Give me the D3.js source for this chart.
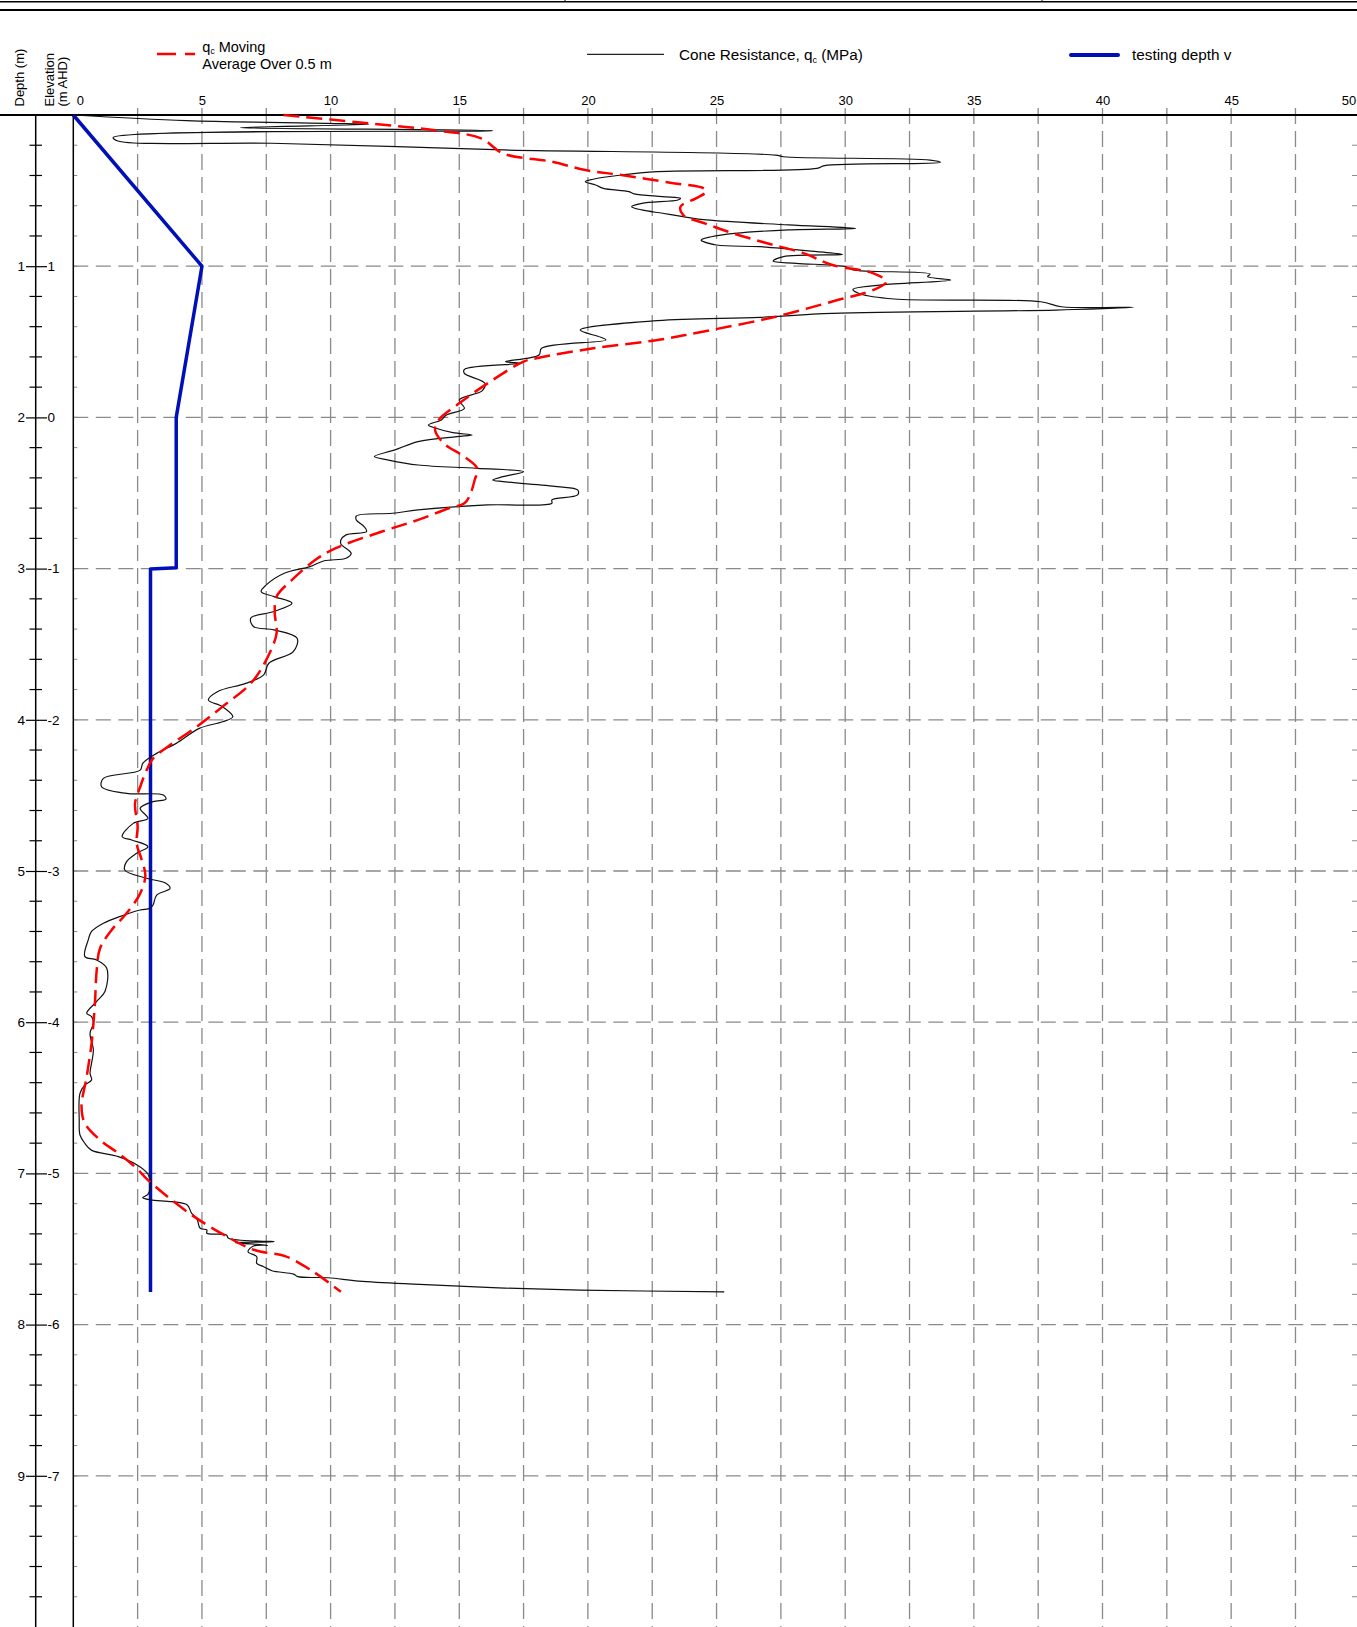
<!DOCTYPE html>
<html>
<head>
<meta charset="utf-8">
<script src="https://cdn.jsdelivr.net/npm/d3@7.9.0/dist/d3.min.js"></script>
<style>
  body { margin: 0; background: #fff; }
  svg { display: block; font-family: "Liberation Sans", Arial, sans-serif; }
</style>
</head>
<body>
<svg id="chart" width="1357" height="1627"></svg>
<script>
// ---- data ----
const qcTickLabels = [0, 5, 10, 15, 20, 25, 30, 35, 40, 45, 50];
const gridQc = [2.5, 5, 7.5, 10, 12.5, 15, 17.5, 20, 22.5, 25, 27.5, 30, 32.5, 35, 37.5, 40, 42.5, 45, 47.5, 50];
const depthLabels = [1, 2, 3, 4, 5, 6, 7, 8, 9];
const elevLabels = [1, 0, -1, -2, -3, -4, -5, -6, -7];

// cone resistance qc (MPa) against depth (m)
const coneDepth = [0, 0.037, 0.055, 0.062, 0.084, 0.104, 0.148, 0.17, 0.187, 0.209, 0.231, 0.265, 0.276, 0.298, 0.313,
  0.335, 0.353, 0.375, 0.397, 0.425, 0.441, 0.463, 0.485, 0.507, 0.522, 0.54, 0.551, 0.562, 0.584, 0.606, 0.628,
  0.65, 0.672, 0.694, 0.727, 0.75, 0.76, 0.783, 0.805, 0.827, 0.86, 0.871, 0.904, 0.922, 0.937, 0.966, 0.981,
  1.003, 1.025, 1.052, 1.069, 1.091, 1.124, 1.153, 1.184, 1.217, 1.235, 1.268, 1.272, 1.29, 1.312, 1.338, 1.36,
  1.422, 1.47, 1.488, 1.543, 1.587, 1.631, 1.642, 1.682, 1.709, 1.775, 1.823, 1.885, 1.94, 1.984, 2.017, 2.05,
  2.072, 2.101, 2.116, 2.127, 2.16, 2.215, 2.259, 2.282, 2.315, 2.337, 2.359, 2.392, 2.414, 2.425, 2.458, 2.48,
  2.513, 2.546, 2.568, 2.579, 2.612, 2.634, 2.652, 2.678, 2.722, 2.755, 2.777, 2.811, 2.837, 2.899, 2.932, 2.948,
  2.987, 3.031, 3.108, 3.152, 3.185, 3.229, 3.284, 3.327, 3.383, 3.405, 3.461, 3.549, 3.626, 3.703, 3.759, 3.814,
  3.869, 3.913, 3.98, 4.013, 4.057, 4.156, 4.222, 4.288, 4.333, 4.387, 4.443, 4.487, 4.498, 4.526, 4.541, 4.585,
  4.652, 4.685, 4.773, 4.795, 4.839, 4.883, 4.938, 4.993, 5.048, 5.081, 5.115, 5.159, 5.225, 5.247, 5.258, 5.302,
  5.346, 5.4, 5.456, 5.566, 5.588, 5.643, 5.797, 5.864, 5.941, 5.963, 6.007, 6.073, 6.184, 6.271, 6.338, 6.382,
  6.415, 6.471, 6.647, 6.746, 6.802, 6.846, 6.889, 6.944, 7.004, 7.066, 7.139, 7.16, 7.175, 7.187, 7.209, 7.264,
  7.297, 7.363, 7.374, 7.396, 7.407, 7.429, 7.452, 7.458, 7.475, 7.48, 7.518, 7.551, 7.595, 7.617, 7.644, 7.666,
  7.683, 7.69, 7.712, 7.734, 7.756, 7.772, 7.783];
const coneQc = [0, 4.4, 9.9, 11.5, 6.5, 16.3, 1.55, 1.7, 7.7, 12.6, 16.7, 27.3, 27.6, 33.3, 33.7,
  29.2, 28.9, 22.7, 21.3, 20.2, 19.9, 20.3, 20.6, 21.6, 21.8, 22.9, 23.6, 23.5, 22.1, 21.7, 22.1,
  22.9, 23.7, 24.6, 27.8, 30.4, 27.8, 25.7, 24.8, 24.4, 25.0, 26.7, 28.9, 29.9, 27.6, 27.2, 28.1,
  30.0, 30.3, 33.3, 33.2, 34.1, 31.4, 30.3, 30.6, 31.9, 37.6, 38.4, 41.2, 38.2, 29.5, 26.7, 22.7,
  19.7, 20.5, 20.7, 18.2, 18.1, 16.8, 17.4, 15.2, 15.2, 16.0, 15.9, 15.0, 15.2, 14.5, 14.3, 13.8,
  14.1, 14.75, 15.5, 14.9, 13.4, 12.5, 11.7, 12.25, 13.4, 15.7, 17.5, 16.7, 16.3, 16.7, 18.8, 19.6,
  19.6, 18.6, 18.6, 16.1, 13.4, 12.4, 11.0, 11.0, 11.3, 11.4, 10.6, 10.4, 10.4, 10.8, 10.6, 9.75,
  9.2, 8.2, 7.5, 7.3, 7.8, 8.5, 7.8, 6.9, 7.0, 7.8, 8.7, 8.55, 7.6, 7.4, 6.7, 5.6,
  5.25, 5.8, 6.2, 5.8, 4.9, 4.0, 3.24, 2.7, 2.6, 1.17, 1.1, 2.07, 3.5, 3.6, 3.1, 2.6,
  2.9, 2.33, 1.9, 2.27, 2.9, 2.46, 2.07, 2.0, 2.85, 3.6, 3.76, 3.24, 3.1, 2.98, 2.6, 1.8,
  1.17, 0.71, 0.58, 0.45, 0.9, 1.3, 1.23, 0.9, 0.52, 0.71, 0.78, 0.65, 0.78, 0.71, 0.65, 0.71,
  0.45, 0.26, 0.23, 0.26, 0.45, 0.7, 1.75, 2.48, 2.9, 3.0, 2.9, 2.7, 3.0, 3.83, 4.43, 4.6,
  4.8, 4.93, 5.19, 5.19, 5.95, 6.03, 7.8, 6.3, 7.55, 7.0, 6.79, 7.13, 7.13, 7.4, 7.72, 8.56,
  8.73, 9.9, 11.1, 13.46, 16.3, 19.7, 25.3];

// qc moving average over 0.5 m
const avgDepth = [0, 0.055, 0.104, 0.154, 0.254, 0.309, 0.364, 0.397, 0.448, 0.485, 0.507, 0.551, 0.606, 0.661,
  0.72, 0.783, 0.85, 0.915, 0.992, 1.047, 1.102, 1.157, 1.224, 1.334, 1.422, 1.488, 1.543, 1.609, 1.631, 1.775,
  1.907, 2.017, 2.083, 2.172, 2.26, 2.337, 2.414, 2.52, 2.568, 2.601, 2.678, 2.755, 2.865, 2.943, 3.075, 3.185,
  3.295, 3.428, 3.604, 3.759, 3.913, 4.046, 4.167, 4.256, 4.333, 4.443, 4.553, 4.707, 4.817, 4.927, 5.03, 5.148,
  5.28, 5.39, 5.511, 5.655, 5.875, 6.14, 6.36, 6.558, 6.669, 6.779, 6.867, 6.967, 7.044, 7.264, 7.407, 7.507,
  7.547, 7.64, 7.783];
const avgQc = [8.17, 11.5, 14.2, 15.85, 16.7, 18.6, 19.9, 21.3, 23.2, 24.5, 24.6, 24.2, 23.6, 23.7,
  24.6, 25.65, 27.0, 28.4, 29.5, 31.1, 31.6, 31.1, 29.7, 27.3, 24.8, 22.7, 20.2, 18.0, 17.5, 16.1,
  15.0, 14.2, 14.06, 14.4, 15.2, 15.7, 15.6, 15.4, 15.2, 14.6, 13.4, 12.0, 10.2, 9.4, 8.5, 7.9,
  7.83, 7.9, 7.5, 6.9, 5.8, 4.8, 3.76, 3.1, 2.85, 2.6, 2.4, 2.5, 2.46, 2.66, 2.8, 2.6,
  2.07, 1.49, 1.04, 0.91, 0.84, 0.71, 0.52, 0.32, 0.45, 1.04, 1.75, 2.46, 2.9, 4.51, 5.86, 7.04,
  8.23, 9.24, 10.4];

// testing depth v
const testDepth = [0, 1, 2, 2.995, 3.003, 7.785];
const testQc = [0, 5, 4, 4, 3, 3];

// ---- layout ----
const W = 1357, H = 1627;
const svg = d3.select('#chart');
const x = d3.scaleLinear().domain([0, 50]).range([73.3, 1359.8]);
const y = d3.scaleLinear().domain([0, 10]).range([115, 1627]);
const GRID = '#8a8a8a';

// header rules
svg.append('line').attr('x1', 0).attr('x2', W).attr('y1', 1.8).attr('y2', 1.8)
  .attr('stroke', '#000').attr('stroke-width', 1.6);
svg.append('line').attr('x1', 0).attr('x2', W).attr('y1', 10).attr('y2', 10)
  .attr('stroke', '#000').attr('stroke-width', 2.2);
[565, 1042].forEach(px => {
  svg.append('line').attr('x1', px).attr('x2', px).attr('y1', 0).attr('y2', 2)
    .attr('stroke', '#000').attr('stroke-width', 1);
});

// grid
svg.append('g').selectAll('line').data(gridQc).join('line')
  .attr('x1', d => x(d)).attr('x2', d => x(d))
  .attr('y1', 108).attr('y2', H)
  .attr('stroke', GRID).attr('stroke-width', 1.3).attr('stroke-dasharray', '16,7');

svg.append('g').selectAll('line').data(depthLabels).join('line')
  .attr('x1', x(0)).attr('x2', W)
  .attr('y1', d => y(d)).attr('y2', d => y(d))
  .attr('stroke', GRID).attr('stroke-width', 1.3).attr('stroke-dasharray', '15,7.5');

// minor depth ticks every 0.2 m
const minorDepths = d3.range(0.2, 10, 0.2).filter(d => Math.abs(d - Math.round(d)) > 0.01);
svg.append('g').selectAll('line').data(minorDepths).join('line')
  .attr('x1', 29.5).attr('x2', 42)
  .attr('y1', d => y(d)).attr('y2', d => y(d))
  .attr('stroke', '#000').attr('stroke-width', 1.2);
svg.append('g').selectAll('line').data(d3.range(0.2, 10, 0.2)).join('line')
  .attr('x1', x(0)).attr('x2', x(0) + 4)
  .attr('y1', d => y(d)).attr('y2', d => y(d))
  .attr('stroke', GRID).attr('stroke-width', 1);
svg.append('g').selectAll('line').data(d3.range(0.2, 10, 0.2)).join('line')
  .attr('x1', W - 5).attr('x2', W)
  .attr('y1', d => y(d)).attr('y2', d => y(d))
  .attr('stroke', GRID).attr('stroke-width', 1);

// axis lines
svg.append('line').attr('x1', 0).attr('x2', W).attr('y1', y(0)).attr('y2', y(0))
  .attr('stroke', '#000').attr('stroke-width', 1.8);
svg.append('line').attr('x1', x(0)).attr('x2', x(0)).attr('y1', y(0)).attr('y2', H)
  .attr('stroke', '#000').attr('stroke-width', 1.5);
svg.append('line').attr('x1', 35.7).attr('x2', 35.7).attr('y1', y(0)).attr('y2', H)
  .attr('stroke', '#000').attr('stroke-width', 1.5);

// qc tick labels
const xAxis = svg.append('g').attr('transform', `translate(0,${y(0)})`)
  .call(d3.axisTop(x).tickValues(qcTickLabels).tickSize(0).tickPadding(10.5));
xAxis.select('.domain').remove();
xAxis.selectAll('text').attr('font-size', 13).attr('fill', '#000')
  .attr('font-family', '"Liberation Sans", Arial, sans-serif');
xAxis.selectAll('.tick').filter(d => d === 0).select('text').attr('text-anchor', 'start').attr('x', 3);
xAxis.selectAll('.tick').filter(d => d === 50).select('text').attr('text-anchor', 'end').attr('x', -4);

// depth / elevation labels
const dAxis = svg.append('g').attr('transform', 'translate(35.7,0)')
  .call(d3.axisLeft(y).tickValues(depthLabels).tickSize(9.7).tickPadding(1));
const eAxis = svg.append('g').attr('transform', 'translate(35.7,0)')
  .call(d3.axisRight(y).tickValues(depthLabels).tickSize(11.3).tickPadding(0.5)
    .tickFormat((d, i) => elevLabels[i]));
[dAxis, eAxis].forEach(a => {
  a.select('.domain').remove();
  a.selectAll('line').attr('stroke', '#000').attr('stroke-width', 1.2);
  a.selectAll('text').attr('font-size', 13.5).attr('fill', '#000')
    .attr('font-family', '"Liberation Sans", Arial, sans-serif');
});

// axis titles
const title = (tx, ty, txt) => svg.append('text')
  .attr('transform', `translate(${tx},${ty}) rotate(-90)`)
  .attr('font-size', 13).attr('fill', '#000').text(txt);
title(23.5, 106.5, 'Depth (m)');
title(54, 106.5, 'Elevation');
title(67, 106.5, '(m AHD)');

// data lines
const coneData = coneDepth.map((d, i) => ({ d, q: coneQc[i] }));
const avgData = avgDepth.map((d, i) => ({ d, q: avgQc[i] }));
const testData = testDepth.map((d, i) => ({ d, q: testQc[i] }));

const lineRaw = d3.line().x(p => x(p.q)).y(p => y(p.d)).curve(d3.curveCatmullRom.alpha(0.5));
const lineStraight = d3.line().x(p => x(p.q)).y(p => y(p.d));

svg.append('path').datum(testData).attr('d', lineStraight)
  .attr('fill', 'none').attr('stroke', '#0010b8').attr('stroke-width', 3.5)
  .attr('stroke-linejoin', 'round');
svg.append('path').datum(coneData).attr('d', lineRaw)
  .attr('fill', 'none').attr('stroke', '#111').attr('stroke-width', 1.2);
svg.append('path').datum(avgData).attr('d', lineRaw)
  .attr('fill', 'none').attr('stroke', '#ff0000').attr('stroke-width', 2.5)
  .attr('stroke-dasharray', '16,7');

// legend
const leg = svg.append('g').attr('font-size', 15.3).attr('fill', '#000');
leg.append('line').attr('x1', 157).attr('x2', 195).attr('y1', 54).attr('y2', 54)
  .attr('stroke', '#ff0000').attr('stroke-width', 2.5).attr('stroke-dasharray', '19,9');
const t1 = leg.append('text').attr('x', 202.3).attr('y', 51.8).attr('font-size', 14.5);
t1.append('tspan').text('q');
t1.append('tspan').attr('font-size', 8.5).attr('dy', 1.8).text('c');
t1.append('tspan').attr('dy', -1.8).text(' Moving');
leg.append('text').attr('x', 202.3).attr('y', 68.8).attr('font-size', 14.5).text('Average Over 0.5 m');

leg.append('line').attr('x1', 587).attr('x2', 664).attr('y1', 54.3).attr('y2', 54.3)
  .attr('stroke', '#222').attr('stroke-width', 1.2);
const t2 = leg.append('text').attr('x', 679).attr('y', 60.3);
t2.append('tspan').text('Cone Resistance, q');
t2.append('tspan').attr('font-size', 9).attr('dy', 2.5).text('c');
t2.append('tspan').attr('dy', -2.5).text(' (MPa)');

leg.append('line').attr('x1', 1071).attr('x2', 1118).attr('y1', 55).attr('y2', 55)
  .attr('stroke', '#0010b8').attr('stroke-width', 4).attr('stroke-linecap', 'round');
leg.append('text').attr('x', 1132).attr('y', 60).text('testing depth v');
</script>
</body>
</html>
